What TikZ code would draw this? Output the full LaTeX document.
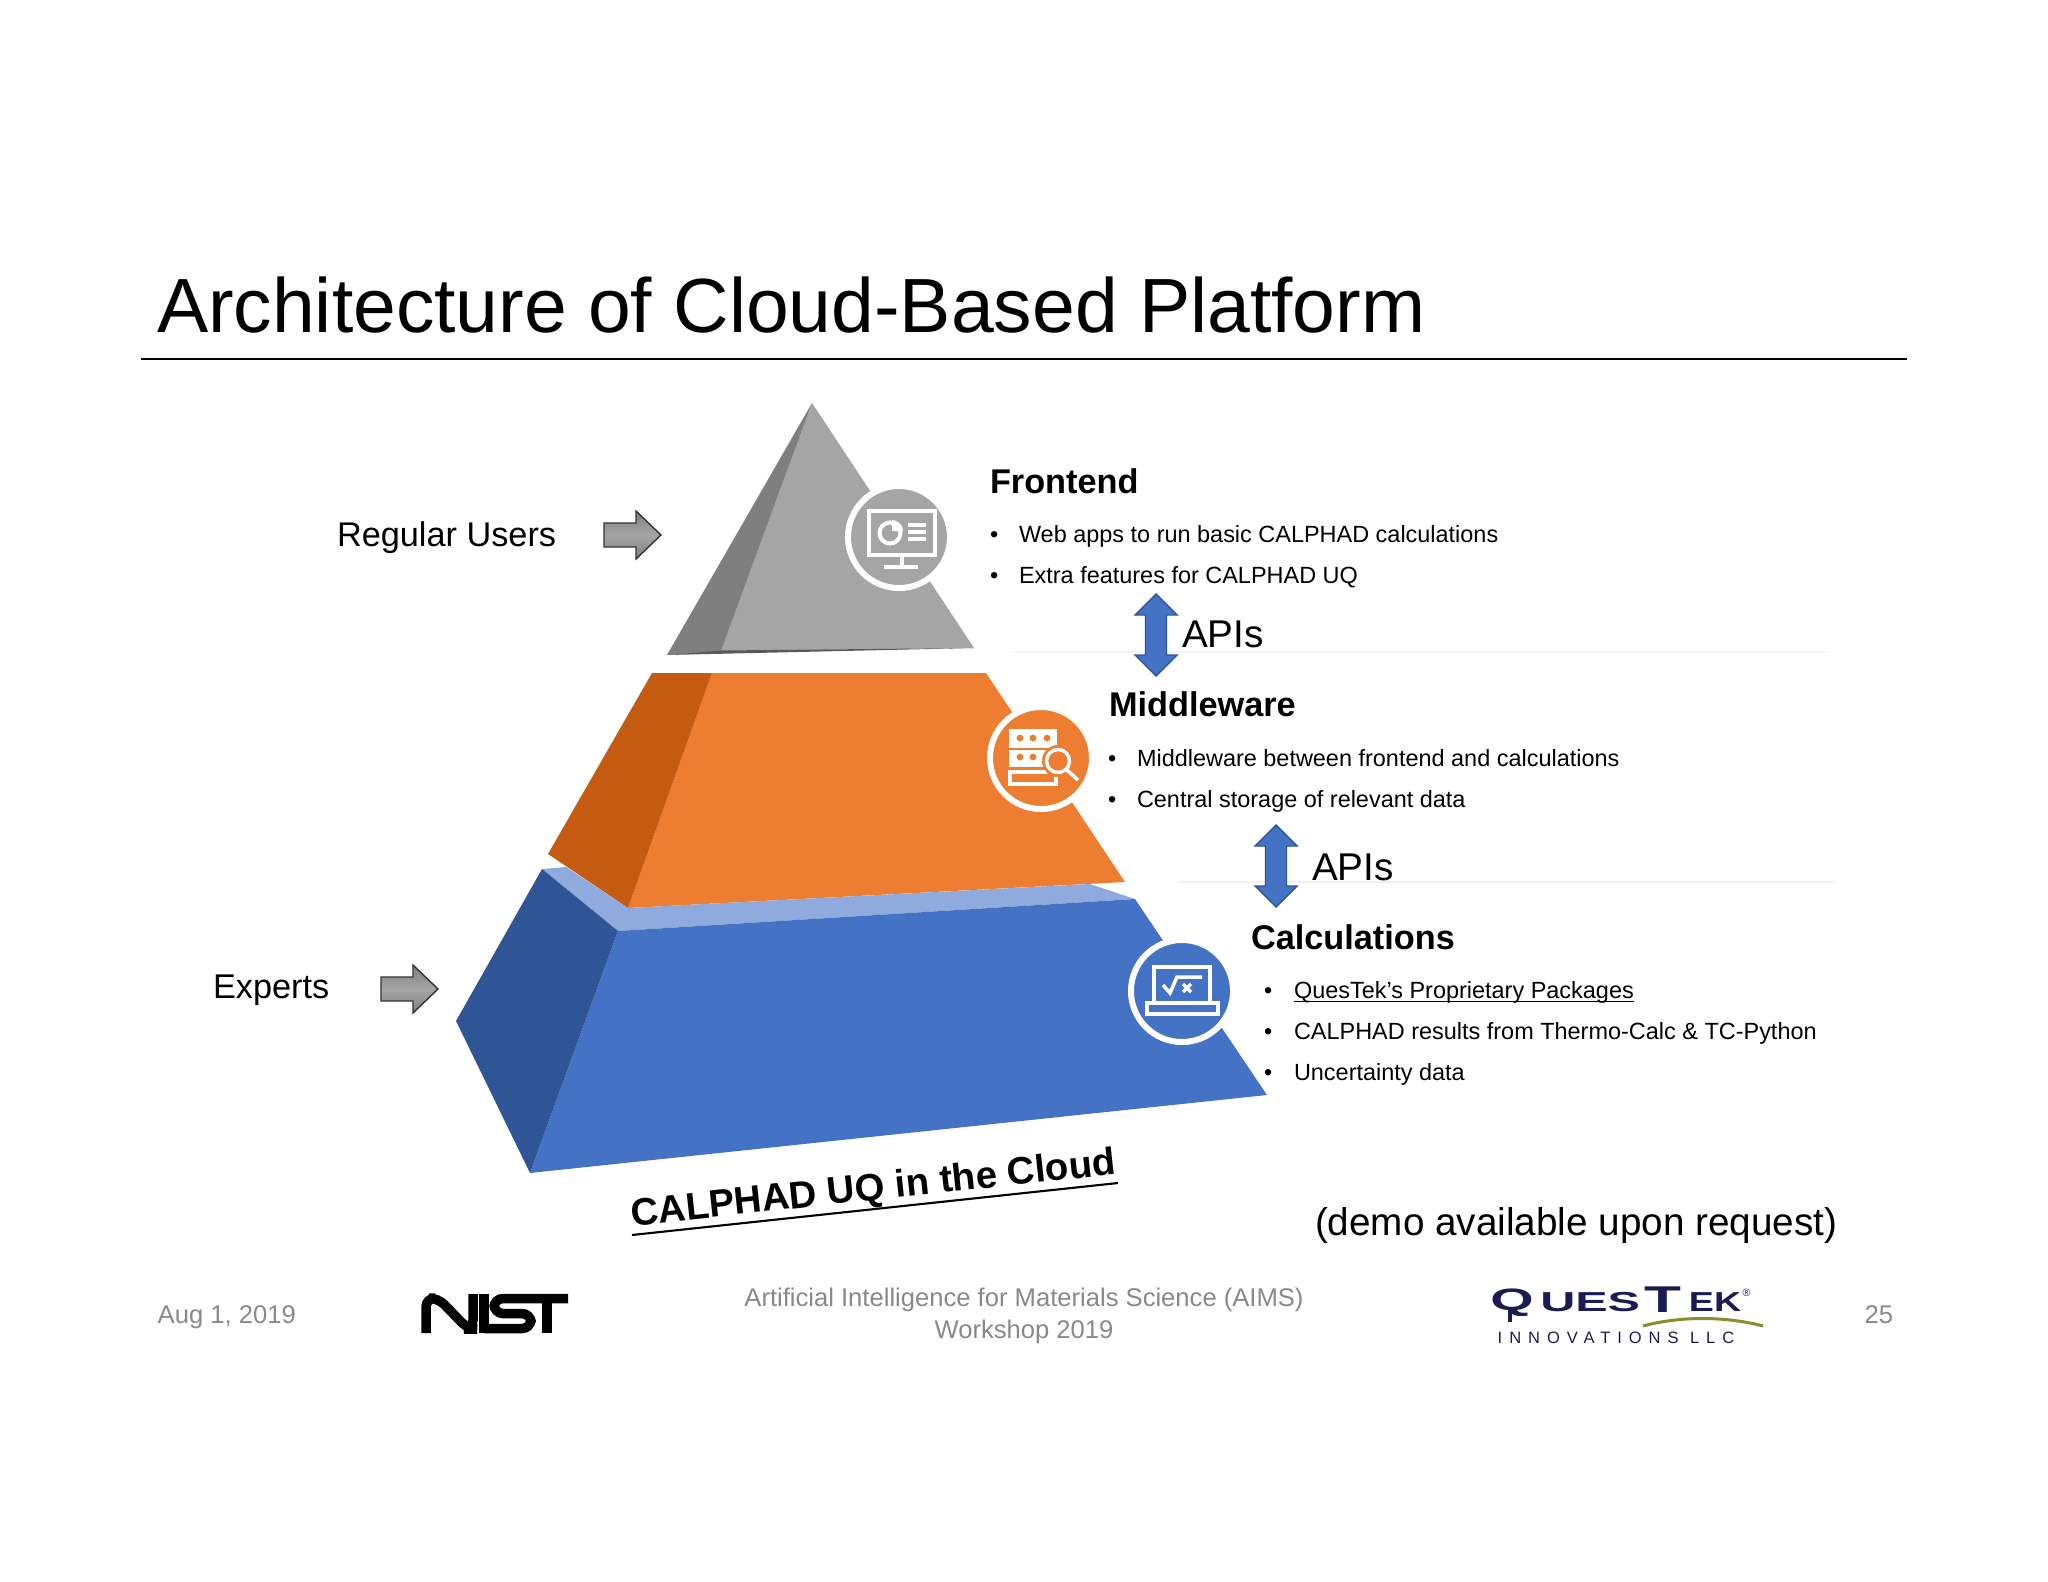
\documentclass[tikz,border=0pt]{standalone}
\usepackage{fontspec}
\setmainfont{Liberation Sans}
\newfontfamily\spacedfont[LetterSpace=42]{Liberation Sans}
\usepackage{xcolor}
\usepackage{tikz}

\definecolor{frontgray}{HTML}{A5A5A5}
\definecolor{frontdark}{HTML}{7F7F7F}
\definecolor{midorange}{HTML}{ED7D31}
\definecolor{middark}{HTML}{C55A11}
\definecolor{calcblue}{HTML}{4472C4}
\definecolor{calcdark}{HTML}{2F5597}
\definecolor{calclight}{HTML}{8FAADC}
\definecolor{footgray}{HTML}{898989}
\definecolor{questnavy}{HTML}{1C1C54}
\definecolor{questgreen}{HTML}{8C8C2E}

\tikzset{
    txt/.style={anchor=base west, inner sep=0pt, outer sep=0pt, font=\fontsize{6.67}{8}\selectfont},
    heading/.style={txt, font=\fontsize{9.75}{11}\selectfont\bfseries},
    big/.style={txt, font=\fontsize{9.75}{12}\selectfont},
    bigger/.style={txt, font=\fontsize{11}{13}\selectfont},
    foot/.style={inner sep=0pt, text=footgray, font=\fontsize{7.28}{8.9}\selectfont},
    iconring/.style={circle, draw=white, line width=0.06cm, minimum size=1.02cm, inner sep=0pt, outer sep=0pt},
    grayarrow/.style={draw=black!80, line width=0.4pt, top color=frontdark, bottom color=frontdark, middle color=frontgray},
    apiarrow/.style={fill=calcblue, draw=calcdark, line width=0.4pt},
    iconline/.style={draw=white, line width=0.035cm},
    nistline/.style={draw=black, line width=0.095cm, rounded corners=0.09cm},
    quest/.style={anchor=base west, inner sep=0pt, text=questnavy, transform shape},
}

\begin{document}
\begin{tikzpicture}[x=0.01cm, y=-0.01cm]

    \useasboundingbox (0,0) rectangle (2048,1582);

    % Title and rule
    \node[txt, font=\fontsize{21.85}{26}\selectfont] (title) at (157,333) {Architecture of Cloud-Based Platform};
    \draw[black, line width=0.7pt] (141,359) -- (1907,359);

    % Faint lines behind the APIs labels
    \draw[black!4, line width=0.3pt] (1012,652) -- (1828,652);
    \draw[black!6, line width=0.3pt] (1178,882) -- (1835,882);

    % Top block
    \fill[frontgray] (812,403) -- (974,648) -- (721,651) -- cycle;
    \fill[frontdark] (812,403) -- (721,651) -- (667,655) -- cycle;
    \fill[black!65] (667,655) -- (721,650.5) -- (974,648) -- cycle;

    % Middle block
    \fill[midorange] (712,673) -- (986,673) -- (1125,882) -- (628,908) -- cycle;
    \fill[middark] (652,673) -- (712,673) -- (628,908) -- (548,854) -- cycle;

    % Bottom block
    \fill[calclight] (542,869) -- (566,867) -- (628,908) -- (1090,884) -- (1135,899) -- (618,931) -- cycle;
    \fill[calcblue] (618,931) -- (1135,899) -- (1267,1095) -- (530,1173) -- cycle;
    \fill[calcdark] (542,869) -- (618,931) -- (530,1173) -- (456,1021) -- cycle;

    % Icon discs
    \node[iconring, fill=frontgray] (fronticon) at (899,537) {};
    \node[iconring, fill=midorange] (midicon) at (1041,758) {};
    \node[iconring, fill=calcblue] (calcicon) at (1182,991) {};

    % Monitor icon
    \draw[iconline] (869,511) rectangle (935,555);
    \draw[iconline] (902,556) -- (902,567) (884,567) -- (918,567);
    \draw[white, line width=0.04cm] (890,533) circle (10.5);
    \fill[white] (892,531) -- (903,531) arc (0:-90:11) -- cycle;
    \foreach \ypos in {525,532,539}
        \draw[iconline] (908,\ypos) -- (926,\ypos);

    % Server icon
    \fill[white] (1009,729) rectangle (1057,748);
    \fill[white] (1009,750) rectangle (1057,767);
    \draw[iconline] (1010,772) rectangle (1056,784);
    \foreach \xpos in {1020,1033,1047}
        \fill[midorange] (\xpos,738) circle (3.4);
    \foreach \xpos in {1020,1033}
        \fill[midorange] (\xpos,757) circle (3.4);
    \fill[midorange] (1058,761) circle (16);
    \draw[iconline] (1058,761) circle (11.5);
    \draw[iconline] (1067,770) -- (1078,780);

    % Laptop icon
    \draw[iconline] (1154,1003) -- (1154,967) -- (1210,967) -- (1210,1003);
    \draw[iconline] (1147,1003) rectangle (1218,1014);
    \draw[iconline] (1163,985) -- (1170,993) -- (1177,977) -- (1202,977);
    \draw[iconline] (1183,984) -- (1191,992) (1183,992) -- (1191,984);

    % Block arrows for the two user groups
    \foreach \xpos/\ypos in {604/535, 381/989}
        \draw[grayarrow] (\xpos,\ypos-12) -- ++(32,0) -- ++(0,-12) -- ++(25,24) -- ++(-25,24)
            -- ++(0,-12) -- ++(-32,0) -- cycle;

    % Double arrows between layers
    \foreach \xpos/\ypos in {1156/594, 1276/825}
        \draw[apiarrow] (\xpos,\ypos) -- ++(21,21) -- ++(-10.5,0) -- ++(0,40) -- ++(10.5,0)
            -- ++(-21,21) -- ++(-21,-21) -- ++(10.5,0) -- ++(0,-40) -- ++(-10.5,0) -- cycle;

    % Left labels
    \node[big] (regular) at (337,546) {Regular Users};
    \node[big] (experts) at (213,998) {Experts};

    % Frontend text
    \node[heading] (frontend) at (990,493) {Frontend};
    \foreach \name/\ypos/\line in {web/542/Web apps to run basic CALPHAD calculations,
                                   extra/583/Extra features for CALPHAD UQ} {
        \node[txt] (\name dot) at (990,\ypos) {•};
        \node[txt] (\name) at (1019,\ypos) {\line};
    }
    \node[bigger] (apisone) at (1182,647) {APIs};

    % Middleware text
    \node[heading] (middleware) at (1109,716) {Middleware};
    \foreach \name/\ypos/\line in {between/766/Middleware between frontend and calculations,
                                   storage/807/Central storage of relevant data} {
        \node[txt] (\name dot) at (1108,\ypos) {•};
        \node[txt] (\name) at (1137,\ypos) {\line};
    }
    \node[bigger] (apistwo) at (1312,880) {APIs};

    % Calculations text
    \node[heading] (calculations) at (1251,949) {Calculations};
    \foreach \name/\ypos/\line in {ques/998/QuesTek’s Proprietary Packages,
                                   results/1039/CALPHAD results from Thermo-Calc \& TC-Python,
                                   uncert/1080/Uncertainty data} {
        \node[txt] (\name dot) at (1264,\ypos) {•};
        \node[txt] (\name) at (1294,\ypos) {\line};
    }
    \draw[black, line width=0.3pt] ([yshift=-0.035cm]ques.base west) -- ([yshift=-0.035cm]ques.base east);

    % Tilted caption
    \node[heading, rotate=6.1, font=\fontsize{10.9}{13}\selectfont\bfseries] (cloud) at (632,1226) {CALPHAD UQ in the Cloud};
    \coordinate (cloudleft) at (632,1235);
    \coordinate (cloudright) at (1118,1183);
    \draw[black, line width=0.6pt] (cloudleft) -- (cloudright);

    \node[bigger] (demo) at (1315,1235) {(demo available upon request)};

    % Footer
    \node[foot, anchor=base west] (date) at (157,1323) {Aug 1, 2019};
    \node[foot, align=center, anchor=base] (workshop) at (1024,1338) {Artificial Intelligence for Materials Science (AIMS)\\Workshop 2019};
    \node[foot, anchor=base west] (page) at (1864,1323) {25};

    % NIST logo
    \draw[nistline] (426,1333) -- (426,1298) -- (438,1298) -- (468,1329) -- (473,1329) -- (473,1294);
    \draw[black, line width=0.095cm] (484,1294) -- (484,1333);
    \draw[nistline] (568,1298.5) -- (494,1298.5) -- (494,1313.5) -- (531,1313.5) -- (531,1328.5) -- (484,1328.5);
    \draw[black, line width=0.095cm] (547,1298) -- (547,1333);

    % QuesTek logo
    \node[quest, xscale=1.8, font=\fontsize{8.8}{10}\selectfont\bfseries] (questq) at (1489,1310) {Q};
    \draw[questnavy, line width=0.04cm] (1510,1308) -- (1510,1322);
    \node[quest, xscale=1.77, font=\fontsize{7.8}{9}\selectfont\bfseries] (questues) at (1539,1311) {UES};
    \node[quest, xscale=1.62, font=\fontsize{10.6}{12}\selectfont\bfseries] (questt) at (1643,1312) {T};
    \node[quest, xscale=1.37, font=\fontsize{7.8}{9}\selectfont\bfseries] (questek) at (1688,1311) {EK};
    \node[quest, font=\fontsize{3}{4}\selectfont] (questreg) at (1742,1296) {®};
    \draw[questgreen, line width=0.03cm] (1643,1326) .. controls (1680,1316) and (1725,1316) .. (1763,1326);
    \node[quest, font=\fontsize{4.7}{6}\selectfont\spacedfont] (questllc) at (1497,1343) {INNOVATIONS LLC};

\end{tikzpicture}
\end{document}
